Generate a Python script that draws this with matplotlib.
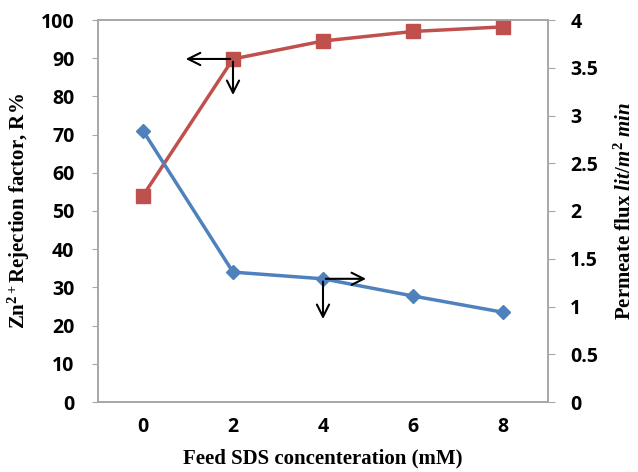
import numpy as np
import matplotlib
import matplotlib.pyplot as plt

matplotlib.rcParams['mathtext.fontset'] = 'custom'
matplotlib.rcParams['mathtext.rm'] = 'Liberation Serif:bold'
matplotlib.rcParams['mathtext.it'] = 'Liberation Serif:italic:bold'
matplotlib.rcParams['mathtext.bf'] = 'Liberation Serif:bold'

# data
sds = ['0', '2', '4', '6', '8']
rejection = [54.0, 89.8, 94.5, 97.0, 98.2]
flux = [2.84, 1.36, 1.29, 1.11, 0.94]

red = '#C0504D'
blue = '#4F81BD'
grey = '#A6A6A6'
tick_font = dict(family='Open Sans', weight='bold', size=14)
label_font = dict(family='Liberation Serif', weight='bold', size=15)

fig = plt.figure(figsize=(6.38, 4.72), dpi=100)
ax = fig.add_axes([98/638, 70/472, 450/638, 382/472])
ax2 = ax.twinx()

x = np.arange(len(sds))
ax.plot(x, rejection, color=red, linewidth=2.5, marker='s', markersize=10, zorder=3)
ax2.plot(x, flux, color=blue, linewidth=2.5, marker='D', markersize=7.5, zorder=3)

ax.set_xlim(-0.5, len(sds) - 0.5)
ax.set_ylim(0, 100)
ax2.set_ylim(0, 4)
ax.set_xticks(x)
ax.set_xticklabels(sds, fontdict=tick_font)
ax.set_yticks(np.arange(0, 101, 10))
ax.set_yticklabels([str(v) for v in range(0, 101, 10)], fontdict=tick_font)
ax2.set_yticks(np.arange(0, 4.01, 0.5))
ax2.set_yticklabels(['0', '0.5', '1', '1.5', '2', '2.5', '3', '3.5', '4'], fontdict=tick_font)

ax.tick_params(axis='x', length=0, pad=11)
ax.tick_params(axis='y', length=4, color=grey, pad=13)
ax2.tick_params(axis='y', length=5, color=grey, pad=11)

for a in (ax, ax2):
    for s in a.spines.values():
        s.set_color(grey)
        s.set_linewidth(1.2)

ax.set_xlabel('Feed SDS concenteration (mM)', fontdict=label_font, labelpad=8)
ax.set_ylabel(r'Zn$^{\mathregular{2+}}$Rejection factor, R%', fontdict=label_font, labelpad=6)
ax2.set_ylabel(r'Permeate flux $lit/m^2\ min$', fontdict=label_font, labelpad=12)

# arrows pointing at the axis each curve belongs to
arrow = dict(arrowstyle='<-', color='black', lw=1.5, mutation_scale=22)
ax.annotate('', xy=(x[1], rejection[1]), xytext=(-36, 0),
            xycoords='data', textcoords='offset points', arrowprops=arrow)
ax.annotate('', xy=(x[1], rejection[1]), xytext=(0, -28),
            xycoords='data', textcoords='offset points', arrowprops=arrow)
ax2.annotate('', xy=(x[2], flux[2]), xytext=(33, 0),
             xycoords='data', textcoords='offset points', arrowprops=arrow)
ax2.annotate('', xy=(x[2], flux[2]), xytext=(0, -31),
             xycoords='data', textcoords='offset points', arrowprops=arrow)

fig.savefig('out.png', dpi=100)
